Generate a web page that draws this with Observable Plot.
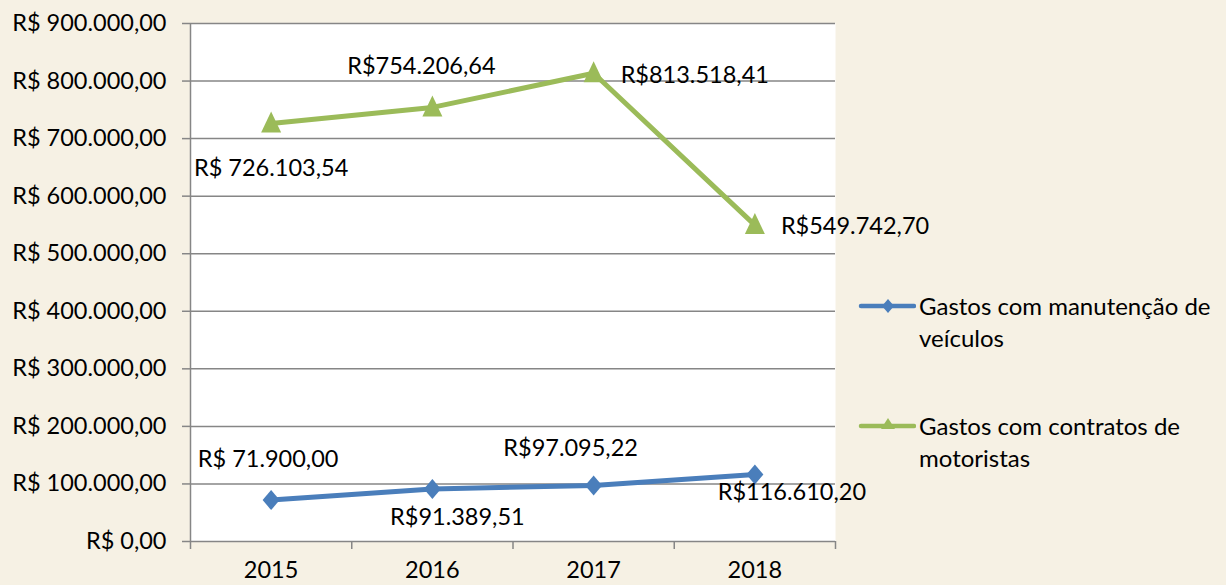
<!DOCTYPE html>
<html>
<head>
<meta charset="utf-8">
<script src="https://cdn.jsdelivr.net/npm/d3@7"></script>
<script src="https://cdn.jsdelivr.net/npm/@observablehq/plot@0.6"></script>
<style>
  html, body { margin: 0; padding: 0; }
  body { width: 1226px; height: 585px; background: #f6f1e4; font-family: Lato, "Open Sans", sans-serif; position: relative; overflow: hidden; }
  #chart { position: absolute; left: 0; top: 0; }
  .legend { position: absolute; left: 858px; font-size: 24px; color: #000; line-height: 32px; }
  .legend .item { display: flex; align-items: flex-start; }
  .legend svg { flex: none; margin-top: 4px; margin-right: 3px; }
</style>
</head>
<body>
<div id="chart"></div>
<div class="legend" id="legend1" style="top:290px"></div>
<div class="legend" id="legend2" style="top:410px"></div>
<script>
// ---- data ----
const years = [2015, 2016, 2017, 2018];
const manutencao = [71900.00, 91389.51, 97095.22, 116610.20];
const contratos = [726103.54, 754206.64, 813518.41, 549742.70];
const seriesNames = ["Gastos com manutenção de veículos", "Gastos com contratos de motoristas"];
const yTicks = [0, 100000, 200000, 300000, 400000, 500000, 600000, 700000, 800000, 900000];

// ---- build table ----
const blue = "#4a7ebb", green = "#9bbb59";
const nf = new Intl.NumberFormat("pt-BR", {minimumFractionDigits: 2, maximumFractionDigits: 2});
const blueRows = years.map((y, i) => ({year: y, value: manutencao[i]}));
const greenRows = years.map((y, i) => ({year: y, value: contratos[i]}));
// label text variants as in the original
const blueLabels = ["R$ " + nf.format(manutencao[0]), "R$" + nf.format(manutencao[1]), "R$" + nf.format(manutencao[2]), "R$" + nf.format(manutencao[3])];
const greenLabels = ["R$ " + nf.format(contratos[0]), "R$" + nf.format(contratos[1]), "R$" + nf.format(contratos[2]), "R$" + nf.format(contratos[3])];
// label placement (offsets in px)
const bluePlace = [{dx: -3, dy: -41, a: "middle"}, {dx: 25, dy: 29, a: "middle"}, {dx: -23, dy: -37, a: "middle"}, {dx: 37, dy: 18, a: "middle"}];
const greenPlace = [{dx: 0, dy: 45, a: "middle"}, {dx: -11, dy: -41, a: "middle"}, {dx: 27, dy: 2, a: "start"}, {dx: 26, dy: 1, a: "start"}];

const boundaries = [...years.map(y => y - 0.5), years[years.length - 1] + 0.5];
const fontSize = 23.5;

// Excel-like marker shapes (size = r²π)
const excelDiamond = {draw(ctx, size) { const r = Math.sqrt(size / Math.PI);
  ctx.moveTo(0, -r); ctx.lineTo(0.85 * r, 0); ctx.lineTo(0, r); ctx.lineTo(-0.85 * r, 0); ctx.closePath(); }};
const excelTriangle = {draw(ctx, size) { const r = Math.sqrt(size / Math.PI);
  ctx.moveTo(0, -1.2 * r); ctx.lineTo(r, 0.9 * r); ctx.lineTo(-r, 0.9 * r); ctx.closePath(); }};

const labelMarks = (rows, labels, place) => rows.map((r, i) =>
  Plot.text([r], {x: "year", y: "value", text: () => labels[i], dx: place[i].dx, dy: place[i].dy,
    textAnchor: place[i].a, fontSize, fill: "#000"}));

const chart = Plot.plot({
  width: 1226,
  height: 585,
  marginLeft: 190,
  marginRight: 391,
  marginTop: 23,
  marginBottom: 44,
  style: {background: "transparent", fontFamily: "Lato, 'Open Sans', sans-serif", fontSize: fontSize + "px", color: "#000"},
  x: {domain: [years[0] - 0.5, years[years.length - 1] + 0.5], axis: null},
  y: {domain: [0, 900000], axis: null},
  marks: [
    Plot.frame({fill: "white", stroke: null}),
    Plot.gridY(yTicks, {stroke: "#868686", strokeOpacity: 1, strokeWidth: 1.5}),
    Plot.ruleX([boundaries[0]], {stroke: "#868686", strokeWidth: 1.5}),
    Plot.axisY(yTicks, {tickSize: 8, tickPadding: 16, stroke: "#868686", strokeWidth: 1.5, fontSize, label: null,
      tickFormat: d => "R$ " + nf.format(d)}),
    Plot.axisX(boundaries, {tickSize: 8, tickFormat: () => "", stroke: "#868686", strokeWidth: 1.5, label: null}),
    Plot.axisX(years, {tickSize: 0, tickPadding: 20, fontSize, label: null, tickFormat: d => String(d)}),
    Plot.line(greenRows, {x: "year", y: "value", stroke: green, strokeWidth: 5}),
    Plot.line(blueRows, {x: "year", y: "value", stroke: blue, strokeWidth: 5}),
    Plot.dot(greenRows, {x: "year", y: "value", symbol: excelTriangle, r: 10, fill: green, stroke: null}),
    Plot.dot(blueRows, {x: "year", y: "value", symbol: excelDiamond, r: 10, fill: blue, stroke: null}),
    ...labelMarks(greenRows, greenLabels, greenPlace),
    ...labelMarks(blueRows, blueLabels, bluePlace)
  ]
});
document.getElementById("chart").appendChild(chart);

function legendItem(el, name, color, shape) {
  el.innerHTML = `<div class="item"><svg width="58" height="24" viewBox="0 0 58 24">
    <line x1="3" y1="12" x2="56" y2="12" stroke="${color}" stroke-width="4.5" stroke-linecap="round"/>
    <path d="${shape}" fill="${color}"/></svg>
    <div style="width:320px">${name}</div></div>`;
}
legendItem(document.getElementById("legend1"), seriesNames[0], blue, "M30,5 L36,12 L30,19 L24,12 Z");
legendItem(document.getElementById("legend2"), seriesNames[1], green, "M30,4 L37,15 L23,15 Z");
</script>
</body>
</html>
